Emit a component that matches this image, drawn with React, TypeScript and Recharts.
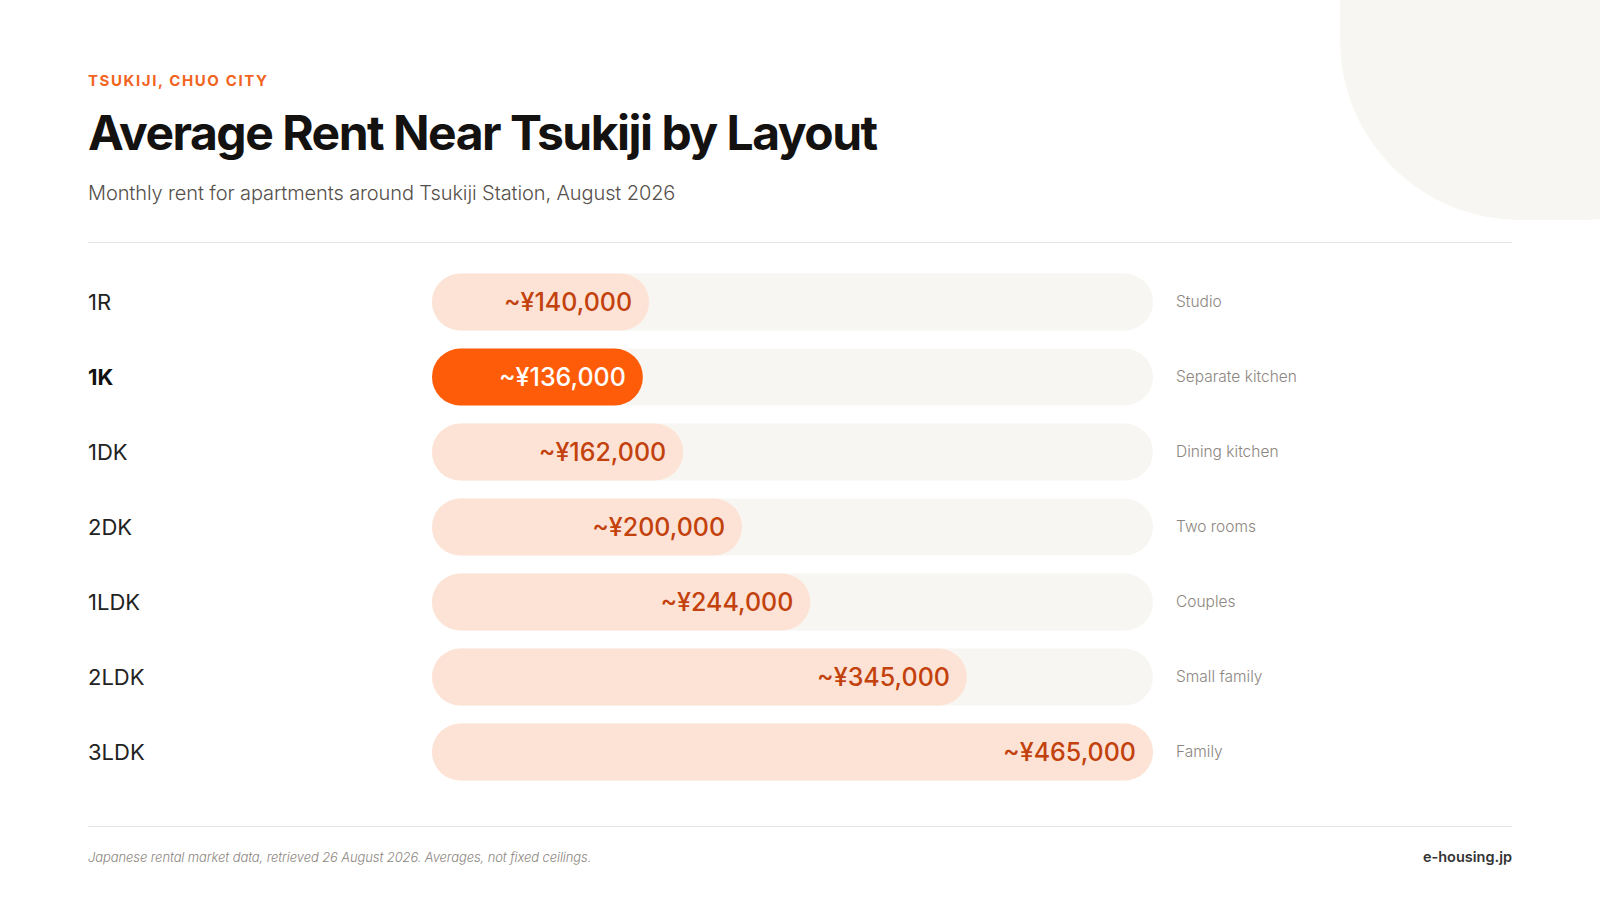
import React from 'react';
import { BarChart, Bar, XAxis, YAxis, Cell, LabelList } from 'recharts';

const layouts = ['1R', '1K', '1DK', '2DK', '1LDK', '2LDK', '3LDK'];
const rents = [140000, 136000, 162000, 200000, 244000, 345000, 465000];
const descriptions = ['Studio', 'Separate kitchen', 'Dining kitchen', 'Two rooms', 'Couples', 'Small family', 'Family'];
const highlightLayout = '1K';
const maxRent = 465000;

const data = layouts.map((layout, i) => ({ layout, rent: rents[i], desc: descriptions[i] }));

const ORANGE = '#FF5C0A';
const LIGHT = '#FDE3D5';
const TRACK = '#F8F6F2';
const FONT = 'Inter, "Noto Sans", sans-serif';

const fmt = (v: number) => '~¥' + v.toLocaleString('en-US');

const LeftTick = (props: any) => {
  const { y, payload } = props;
  const hi = payload.value === highlightLayout;
  return (
    <text x={88} y={y} dy={8} textAnchor="start" fontFamily={FONT} fontSize={22}
      fontWeight={hi ? 700 : 400} fill={hi ? '#111' : '#222'}>
      {payload.value}
    </text>
  );
};

const RightTick = (props: any) => {
  const { y, payload } = props;
  const idx = layouts.indexOf(payload.value);
  return (
    <text x={1176} y={y} dy={4.5} textAnchor="start" fontFamily={FONT} fontSize={15.5}
      fontWeight={300} fill="#8C8680">
      {descriptions[idx]}
    </text>
  );
};

const ValueLabel = (props: any) => {
  const { x, y, width, height, value, index } = props;
  const hi = layouts[index] === highlightLayout;
  return (
    <text x={x + width - 17} y={y + height / 2} dy={9} textAnchor="end" fontFamily={FONT}
      fontSize={25} fontWeight={500} fill={hi ? '#FFFFFF' : '#C2410C'}>
      {fmt(value)}
    </text>
  );
};

export default function App() {
  return (
    <div style={{ position: 'absolute', left: 0, top: 0, width: 1600, height: 900, background: '#fff', overflow: 'hidden' }}>
      <div style={{ position: 'absolute', left: 1340, top: -200, width: 420, height: 420, borderRadius: 180, background: TRACK }} />
      <svg width={1600} height={900} style={{ position: 'absolute', left: 0, top: 0 }}>
        <text x={88} y={86} fontFamily={FONT} fontSize={15} fontWeight={700} letterSpacing={1.6} fill="#F2641E">TSUKIJI, CHUO CITY</text>
        <text x={88} y={150} fontFamily={FONT} fontSize={48} fontWeight={700} letterSpacing={-1.5} fill="#141210">Average Rent Near Tsukiji by Layout</text>
        <text x={88} y={200} fontFamily={FONT} fontSize={20} fontWeight={300} letterSpacing={-0.1} fill="#55504B">Monthly rent for apartments around Tsukiji Station, August 2026</text>
        <line x1={88} x2={1512} y1={242.5} y2={242.5} stroke="#E8E5E0" strokeWidth={1} />
        <line x1={88} x2={1512} y1={826.5} y2={826.5} stroke="#E8E5E0" strokeWidth={1} />
        <text x={88} y={862} fontFamily={FONT} fontSize={13} fontStyle="italic" fontWeight={300} letterSpacing={-0.1} fill="#8C8680">Japanese rental market data, retrieved 26 August 2026. Averages, not fixed ceilings.</text>
        <text x={1512} y={862} textAnchor="end" fontFamily={FONT} fontSize={14.5} fontWeight={600} fill="#333">e-housing.jp</text>
      </svg>
      <div style={{ position: 'absolute', left: 0, top: 250 }}>
        <BarChart width={1600} height={550} data={data} layout="vertical"
          margin={{ top: 14.5, right: 0, left: 0, bottom: 10.5 }} barSize={57}>
          <XAxis type="number" domain={[0, maxRent]} hide />
          <YAxis yAxisId="left" type="category" dataKey="layout" width={432} axisLine={false} tickLine={false} tick={<LeftTick />} interval={0} />
          <YAxis yAxisId="right" orientation="right" type="category" dataKey="layout" width={447} axisLine={false} tickLine={false} tick={<RightTick />} interval={0} />
          <Bar yAxisId="left" dataKey="rent" radius={28.5} isAnimationActive={false}
            background={{ fill: TRACK, radius: 28.5 } as any}>
            {data.map((d) => (
              <Cell key={d.layout} fill={d.layout === highlightLayout ? ORANGE : LIGHT} />
            ))}
            <LabelList dataKey="rent" content={<ValueLabel />} />
          </Bar>
        </BarChart>
      </div>
    </div>
  );
}
